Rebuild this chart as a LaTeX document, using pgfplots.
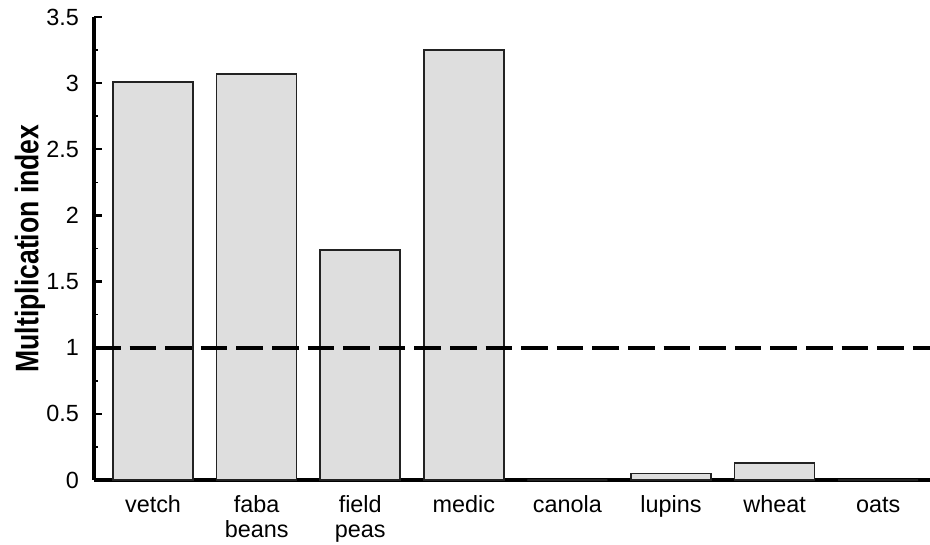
\documentclass[border=0pt]{standalone}
\usepackage{graphicx}
\usepackage{pgfplots}
\pgfplotsset{compat=1.18}
\usepackage{fontspec}
\setmainfont{Liberation Sans}
\definecolor{barfill}{HTML}{DEDEDE}
\definecolor{baredge}{HTML}{222222}
\begin{document}
\begin{tikzpicture}
\useasboundingbox (-47pt,-32.5pt) rectangle (418pt,240pt);
\begin{axis}[
  at={(0,0)}, anchor=south west,
  scale only axis, width=418pt, height=231.5pt,
  xmin=-0.57, xmax=7.5, ymin=0, ymax=3.5,
  axis x line=bottom, axis y line=left,
  axis line style={-, line width=2pt, black},
  ytick={0,0.5,1,1.5,2,2.5,3,3.5},
  yticklabels={0,0.5,1,1.5,2,2.5,3,3.5},
  minor ytick={0.25,0.75,1.25,1.75,2.25,2.75,3.25},
  tick align=inside,
  major tick length=4pt, minor tick length=2.2pt,
  every major tick/.style={line width=1.2pt, black},
  every minor tick/.style={line width=0.8pt, black},
  xtick={0,1,2,3,4,5,6,7},
  xticklabels={\strut vetch,{\strut faba\\beans},{\strut field\\peas},\strut medic,\strut canola,\strut lupins,\strut wheat,\strut oats},
  x tick style={draw=none},
  xticklabel style={align=center, font=\fontsize{11.7}{12.5}\selectfont, anchor=north, yshift=-4pt},
  yticklabel style={font=\fontsize{11.7}{12.5}\selectfont, anchor=east, xshift=-4pt},
  ylabel={\scalebox{0.815}[1]{\bfseries Multiplication index}},
  every axis y label/.style={at={(axis description cs:-0.0766,0.5)}, rotate=90, anchor=center, font=\fontsize{16.3}{17}\selectfont},
  bar width=40pt,
  clip=false,
]
\addplot[ybar, fill=barfill, draw=baredge, line width=0.8pt] coordinates {(0,3.01) (1,3.07) (2,1.74) (3,3.25) (4,0) (5,0.05) (6,0.13) (7,0)};
\addplot[sharp plot, black, line width=2pt, dash pattern=on 13.3pt off 4.5pt] coordinates {(-0.57,1) (7.5,1)};
\end{axis}
\end{tikzpicture}
\end{document}
